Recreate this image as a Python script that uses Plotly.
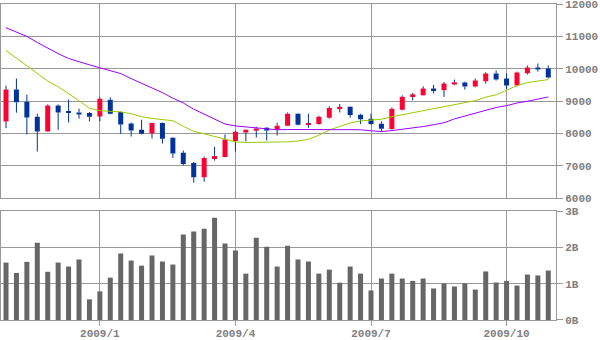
import pandas as pd
import plotly.graph_objects as go

# Weekly sessions (Monday of each week)
weeks = [d.strftime("%Y-%m-%d") for d in pd.date_range("2008-11-03", periods=53, freq="7D")]

open_ = [8374, 9357, 8985, 8520, 8064, 8870, 8680, 8653, 8634, 8529,
         9047, 8665, 8312, 8117, 8002, 8325, 7869, 7404, 7094, 6651,
         7218, 7280, 7767, 8033, 8086, 8179, 8108, 8241, 8613, 8270,
         8294, 8489, 8777, 8830, 8582, 8458, 8303, 8138, 8737, 9130,
         9180, 9388, 9335, 9512, 9574, 9450, 9614, 9852, 9698, 9481,
         9862, 10038, 10007]
high = [9480, 9697, 9202, 8613, 8901, 8901, 9047, 8768, 8665, 9118,
        9118, 8680, 8343, 8427, 8340, 8340, 7880, 7475, 7125, 7290,
        7590, 7971, 8086, 8130, 8210, 8200, 8334, 8653, 8625, 8613,
        8551, 8839, 8913, 8840, 8613, 8613, 8374, 8808, 9180, 9254,
        9459, 9502, 9595, 9666, 9605, 9698, 9893, 9945, 9852, 9914,
        10100, 10162, 10100]
low = [8170, 8644, 7971, 7444, 8050, 8117, 8343, 8458, 8374, 8374,
       8591, 7993, 7909, 7971, 7847, 7692, 7249, 7023, 6484, 6515,
       7165, 7270, 7444, 7754, 7878, 7785, 7940, 8230, 8250, 8179,
       8272, 8458, 8653, 8489, 8294, 8272, 8064, 8117, 8715, 9025,
       9170, 9242, 9130, 9490, 9357, 9428, 9543, 9636, 9378, 9459,
       9821, 9914, 9697]
close = [9357, 8963, 8498, 8064, 8870, 8653, 8650, 8591, 8520, 9078,
         8613, 8281, 8095, 7993, 8325, 7838, 7382, 7063, 6651, 7249,
         7311, 7816, 8055, 8117, 8157, 8095, 8241, 8613, 8272, 8310,
         8520, 8789, 8830, 8572, 8442, 8294, 8148, 8768, 9140, 9211,
         9388, 9335, 9543, 9583, 9450, 9636, 9852, 9667, 9481, 9883,
         10038, 9976, 9728]

# 13-week and 26-week moving averages
ma13 = [10565, 10333, 10101, 9851, 9620, 9443, 9233, 9016, 8780, 8706,
        8687, 8669, 8613, 8520, 8467, 8421, 8396, 8225, 8070, 7993,
        7915, 7822, 7745, 7723, 7723, 7723, 7723, 7745, 7770, 7822,
        7950, 8108, 8220, 8325, 8390, 8408, 8442, 8520, 8582, 8644,
        8715, 8774, 8846, 8908, 8970, 9016, 9125, 9196, 9335, 9481,
        9574, 9620, 9667]
ma26 = [11269, 11129, 10999, 10813, 10633, 10466, 10317, 10212, 10122, 10029,
        9945, 9852, 9697, 9558, 9418, 9264, 9093, 8944, 8752, 8597,
        8427, 8294, 8235, 8210, 8185, 8148, 8117, 8125, 8120, 8118,
        8115, 8118, 8120, 8122, 8117, 8086, 8061, 8092, 8126, 8170,
        8216, 8272, 8334, 8452, 8545, 8625, 8718, 8805, 8861, 8944,
        8997, 9062, 9130]

# Weekly volume, billions of shares
volume = [1.585, 1.30, 1.605, 2.13, 1.33, 1.585, 1.475, 1.67, 0.57, 0.79,
          1.17, 1.835, 1.64, 1.50, 1.78, 1.615, 1.53, 2.36, 2.44, 2.52,
          2.82, 2.11, 1.92, 1.28, 2.27, 2.02, 1.475, 2.05, 1.67, 1.615,
          1.28, 1.39, 1.03, 1.475, 1.28, 0.815, 1.145, 1.28, 1.145, 1.08,
          1.145, 0.87, 1.01, 0.925, 1.01, 0.84, 1.34, 1.035, 1.08, 0.95,
          1.255, 1.23, 1.365]

tick_weeks = ["2009-01-05", "2009-04-06", "2009-07-06", "2009-10-05"]
tick_labels = ["2009/1", "2009/4", "2009/7", "2009/10"]

UP = "#ff0033"
DOWN = "#003399"
GRID = "#999999"
LABEL = "#808080"

body_base = [min(o, c) for o, c in zip(open_, close)]
body_size = [abs(c - o) for o, c in zip(open_, close)]
body_color = [UP if c >= o else DOWN for o, c in zip(open_, close)]

# Wicks: upper and lower shadows drawn as separate segments
wick_x, wick_y = [], []
for d, o, h, l, c in zip(weeks, open_, high, low, close):
    top, bot = max(o, c), min(o, c)
    wick_x += [d, d, None, d, d, None]
    wick_y += [h, top, None, bot, l, None]

fig = go.Figure()
fig.add_trace(go.Scatter(x=wick_x, y=wick_y, mode="lines",
                         line=dict(color=DOWN, width=1),
                         xaxis="x", yaxis="y", hoverinfo="skip"))
fig.add_trace(go.Bar(x=weeks, y=body_size, base=body_base,
                     marker=dict(color=body_color, line=dict(width=0)),
                     width=0.48, xaxis="x", yaxis="y"))
fig.add_trace(go.Scatter(x=weeks, y=ma13, mode="lines",
                         line=dict(color="#99cc00", width=1),
                         xaxis="x", yaxis="y"))
fig.add_trace(go.Scatter(x=weeks, y=ma26, mode="lines",
                         line=dict(color="#9900ff", width=1),
                         xaxis="x", yaxis="y"))
fig.add_trace(go.Bar(x=weeks, y=volume,
                     marker=dict(color="#666666", line=dict(width=0)),
                     width=0.48, xaxis="x2", yaxis="y2"))

tickfont = dict(family="Liberation Mono", size=11, color=LABEL, weight="bold")
xrange = [-0.48, 52.74]

common_x = dict(type="category", categoryorder="array", categoryarray=weeks,
                range=xrange, tickmode="array", tickvals=tick_weeks,
                ticktext=tick_labels, showgrid=True, gridcolor=GRID,
                gridwidth=1, showline=True, mirror=True, linecolor=GRID,
                linewidth=1, zeroline=False, automargin=False)
common_y = dict(side="right", showgrid=True, gridcolor=GRID, gridwidth=1,
                showline=True, mirror=True, linecolor=GRID, linewidth=1,
                zeroline=False, ticks="outside", ticklen=6, tickcolor=GRID,
                tickfont=tickfont, automargin=False,
                ticklabeloverflow="allow")

fig.update_layout(
    width=600, height=340,
    margin=dict(l=1, r=44, t=4, b=20),
    paper_bgcolor="white", plot_bgcolor="white",
    showlegend=False, barmode="overlay", template="none",
    xaxis=dict(**common_x, anchor="y", showticklabels=False, ticks=""),
    xaxis2=dict(**common_x, anchor="y2", matches="x", ticks="outside",
                ticklen=5, tickcolor=GRID, tickfont=tickfont,
                ticklabelstandoff=-2, ticklabeloverflow="allow"),
    yaxis=dict(**common_y, anchor="x", domain=[0.385, 1.0],
               range=[6000, 12000], dtick=1000, tickformat="d"),
    yaxis2=dict(**common_y, anchor="x2", domain=[0.0, 0.344],
                range=[0, 3], dtick=1, ticksuffix="B"),
)

fig.write_html("out.html")
